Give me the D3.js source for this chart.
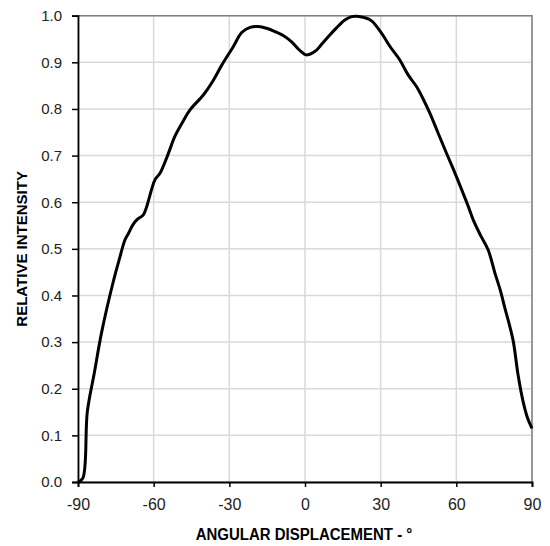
<!DOCTYPE html>
<html>
<head>
<meta charset="utf-8">
<script src="https://cdn.jsdelivr.net/npm/d3@7"></script>
<style>
  body { margin: 0; background: #fff; }
  text { font-family: "Liberation Sans", Arial, sans-serif; }
</style>
</head>
<body>
<div id="chart"></div>
<script>
// angular displacement (deg) and relative intensity
const angles = [-90, -88.1, -86.3, -83.5, -80.6, -76.0, -73.5, -71.4, -70.0, -68.2, -66.7, -64.1, -62.8,
  -59.5, -57.5, -54.5, -51.6, -48.5, -45.6, -40.3, -36.5, -33.0, -28.4, -25.1, -21.8, -18.5, -15.2, -11.9,
  -8.5, -5.3, -2.5, 0.6, 3.9, 6.5, 9.2, 12.5, 15.8, 18.5, 20.5, 23.5, 26.4, 30.4, 33.7, 37.6, 40.9, 44.2,
  46.8, 49.5, 52.8, 56.1, 59.5, 62.7, 64.8, 66.7, 69.5, 72.6, 75.3, 77.5, 79.3, 81.0, 82.6, 84.5, 86.5, 88.2, 90];
const intensity = [0, 0.008, 0.151, 0.235, 0.322, 0.43, 0.48, 0.519, 0.533, 0.552, 0.562, 0.573, 0.59,
  0.648, 0.662, 0.70, 0.741, 0.772, 0.798, 0.830, 0.860, 0.894, 0.934, 0.964, 0.975, 0.977, 0.973, 0.966,
  0.957, 0.944, 0.928, 0.916, 0.923, 0.938, 0.955, 0.974, 0.991, 0.998, 0.999, 0.996, 0.989, 0.962, 0.934,
  0.905, 0.873, 0.848, 0.822, 0.791, 0.748, 0.705, 0.662, 0.619, 0.590, 0.562, 0.530, 0.498, 0.448, 0.41,
  0.372, 0.338, 0.301, 0.229, 0.172, 0.138, 0.115];
const xTicks = [-90, -60, -30, 0, 30, 60, 90];
const yTicks = [0, 0.1, 0.2, 0.3, 0.4, 0.5, 0.6, 0.7, 0.8, 0.9, 1.0];

const width = 550;
const height = 546;
const margin = { top: 15.7, right: 18, bottom: 64, left: 78 };

const svg = d3.select("#chart").append("svg")
  .attr("width", width)
  .attr("height", height);

const x = d3.scaleLinear().domain([-90, 90]).range([margin.left, width - margin.right]);
const y = d3.scaleLinear().domain([0, 1]).range([height - margin.bottom, margin.top]);

// grid
svg.append("g").selectAll("line").data(xTicks).enter().append("line")
  .attr("x1", d => x(d)).attr("x2", d => x(d))
  .attr("y1", y(0)).attr("y2", y(1))
  .attr("stroke", "#d9d9d9").attr("stroke-width", 1.5);
svg.append("g").selectAll("line").data(yTicks).enter().append("line")
  .attr("x1", x(-90)).attr("x2", x(90))
  .attr("y1", d => y(d)).attr("y2", d => y(d))
  .attr("stroke", "#d9d9d9").attr("stroke-width", 1.5);

// top and right frame
svg.append("path")
  .attr("d", `M${x(-90)},${y(1)}H${x(90)}V${y(0)}`)
  .attr("fill", "none").attr("stroke", "#808080").attr("stroke-width", 1.5);

// axes
const xAxis = svg.append("g")
  .attr("transform", `translate(0,${y(0)})`)
  .call(d3.axisBottom(x).tickValues(xTicks).tickSize(5).tickPadding(12).tickFormat(d => String(d)));
const yAxis = svg.append("g")
  .attr("transform", `translate(${x(-90)},0)`)
  .call(d3.axisLeft(y).tickValues(yTicks).tickSize(6).tickPadding(10).tickFormat(d3.format(".1f")));

[xAxis, yAxis].forEach(g => {
  g.select(".domain").attr("stroke", "#000").attr("stroke-width", 1.8);
  g.selectAll(".tick line").attr("stroke", "#000").attr("stroke-width", 1.5);
  g.selectAll(".tick text").attr("fill", "#222")
    .attr("font-family", "Liberation Sans, Arial, sans-serif");
});
xAxis.selectAll(".tick text").attr("font-size", 16);
yAxis.selectAll(".tick text").attr("font-size", 15);

// curve
const line = d3.line()
  .x((d, i) => x(angles[i]))
  .y(d => y(d))
  .curve(d3.curveCatmullRom);

svg.append("path")
  .datum(intensity)
  .attr("d", line)
  .attr("fill", "none")
  .attr("stroke", "#000")
  .attr("stroke-width", 3)
  .attr("stroke-linejoin", "round");

// axis titles
svg.append("text")
  .attr("transform", "translate(304,540) scale(1,1.12)")
  .attr("text-anchor", "middle")
  .attr("font-size", 15)
  .attr("font-weight", "bold")
  .text("ANGULAR DISPLACEMENT - °");

svg.append("text")
  .attr("transform", `translate(27,${y(0.5)}) rotate(-90)`)
  .attr("text-anchor", "middle")
  .attr("font-size", 15)
  .attr("font-weight", "bold")
  .text("RELATIVE INTENSITY");
</script>
</body>
</html>
